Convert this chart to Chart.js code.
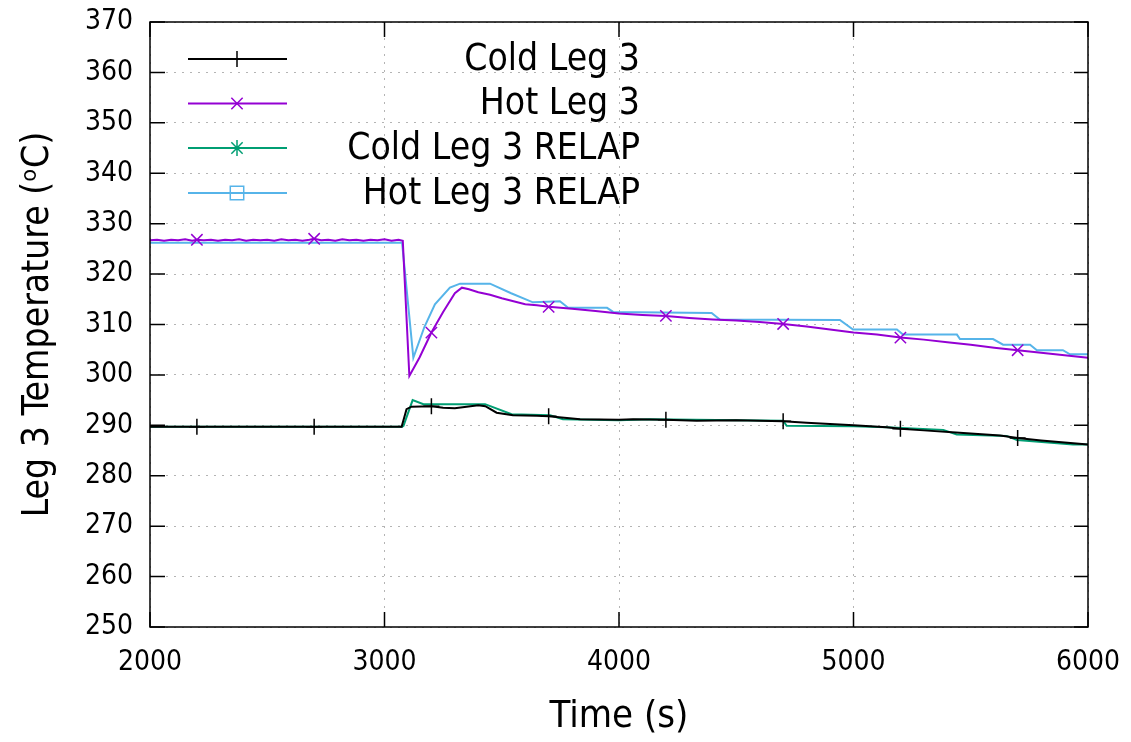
<!DOCTYPE html>
<html>
<head>
<meta charset="utf-8">
<script src="https://cdn.jsdelivr.net/npm/chart.js@4/dist/chart.umd.min.js"></script>
<style>
  body { margin: 0; background: #fff; }
</style>
</head>
<body>
<canvas id="chart" width="1131" height="742"></canvas>
<script>
// Datos
const coldLegTime = [2000, 2200, 2700, 3073, 3094, 3115, 3200, 3250, 3300, 3350, 3400, 3430, 3478, 3548, 3650, 3700, 3834, 4000, 4060, 4200, 4331, 4500, 4700, 4800, 5000, 5141, 5200, 5300, 5437, 5625, 5700, 5800, 5900, 6000];
const coldLegTemp = [289.7, 289.7, 289.7, 289.7, 293.2, 293.7, 293.8, 293.5, 293.4, 293.7, 294.0, 293.8, 292.5, 292.0, 291.9, 291.8, 291.2, 291.1, 291.2, 291.1, 290.9, 291.0, 290.8, 290.5, 290.0, 289.6, 289.3, 289.0, 288.6, 288.0, 287.5, 287.0, 286.6, 286.2];

const hotLegTime = [2000, 2030, 2060, 2090, 2120, 2150, 2180, 2200, 2230, 2260, 2290, 2320, 2350, 2380, 2410, 2440, 2470, 2500, 2530, 2560, 2590, 2620, 2650, 2680, 2700, 2730, 2760, 2790, 2820, 2850, 2880, 2910, 2940, 2970, 3000, 3030, 3060, 3078, 3106, 3150, 3200, 3250, 3300, 3330, 3360, 3400, 3450, 3500, 3550, 3600, 3650, 3700, 3800, 3900, 4000, 4100, 4200, 4300, 4400, 4500, 4600, 4700, 4800, 4900, 5000, 5100, 5200, 5300, 5400, 5500, 5600, 5700, 5800, 5900, 6000];
const hotLegTemp = [326.7, 326.8, 326.6, 326.8, 326.7, 326.9, 326.6, 326.8, 326.7, 326.8, 326.6, 326.8, 326.7, 326.9, 326.6, 326.8, 326.7, 326.8, 326.6, 326.9, 326.7, 326.8, 326.6, 326.8, 327.0, 326.7, 326.8, 326.6, 326.9, 326.7, 326.8, 326.6, 326.8, 326.7, 326.9, 326.6, 326.8, 326.6, 299.8, 303.5, 308.4, 312.5, 316.2, 317.3, 317.0, 316.4, 315.9, 315.2, 314.6, 314.0, 313.8, 313.5, 313.1, 312.7, 312.2, 311.9, 311.7, 311.3, 311.0, 310.8, 310.5, 310.1, 309.6, 309.0, 308.4, 308.0, 307.4, 307.0, 306.5, 306.0, 305.4, 304.9, 304.4, 303.9, 303.4];

const coldRelapTime = [2000, 3075, 3081, 3120, 3166, 3429, 3542, 3706, 3761, 4000, 4130, 4700, 4715, 5000, 5141, 5383, 5440, 5653, 5697, 5936, 6000];
const coldRelapTemp = [289.7, 289.7, 289.9, 295.0, 294.2, 294.2, 292.2, 292.0, 291.2, 291.0, 291.2, 290.9, 289.9, 289.8, 289.6, 289.1, 288.2, 287.9, 287.1, 286.2, 286.2];

const hotRelapTime = [2000, 3075, 3123, 3170, 3215, 3279, 3322, 3450, 3540, 3633, 3748, 3783, 3949, 3975, 4395, 4430, 4942, 4998, 5185, 5211, 5441, 5454, 5595, 5638, 5753, 5782, 5893, 5923, 6000];
const hotRelapTemp = [326.2, 326.2, 303.4, 309.5, 314.0, 317.3, 318.1, 318.1, 316.2, 314.4, 314.6, 313.3, 313.3, 312.5, 312.3, 311.0, 310.9, 309.0, 309.0, 308.0, 308.0, 307.1, 307.1, 306.0, 306.0, 304.9, 304.9, 304.1, 304.1];

const markerTimes = [2200, 2700, 3200, 3700, 4200, 4700, 5200, 5700];
const xTicks = [2000, 3000, 4000, 5000, 6000];
const yTicks = [250, 260, 270, 280, 290, 300, 310, 320, 330, 340, 350, 360, 370];

const pts = (t, v) => t.map((x, i) => ({ x: x, y: v[i] }));
const markerRadius = ctx => (ctx.raw && markerTimes.includes(ctx.raw.x)) ? 8 : 0;

const FONT = "'DejaVu Sans Condensed', 'DejaVu Sans', sans-serif";

// marco con marcas hacia dentro, estilo gnuplot
const framePlugin = {
  id: 'frame',
  afterDatasetsDraw(chart) {
    const { ctx, chartArea: a, scales } = chart;
    ctx.save();
    ctx.strokeStyle = '#000';
    ctx.lineWidth = 1.5;
    ctx.beginPath();
    yTicks.forEach(v => {
      const y = scales.y.getPixelForValue(v);
      ctx.moveTo(a.left, y); ctx.lineTo(a.left + 15, y);
      ctx.moveTo(a.right, y); ctx.lineTo(a.right - 14, y);
    });
    xTicks.forEach(v => {
      const x = scales.x.getPixelForValue(v);
      ctx.moveTo(x, a.bottom); ctx.lineTo(x, a.bottom - 15);
      ctx.moveTo(x, a.top); ctx.lineTo(x, a.top + 15);
    });
    ctx.stroke();
    ctx.strokeRect(a.left, a.top, a.right - a.left, a.bottom - a.top);
    ctx.restore();
  }
};

// leyenda dibujada a mano
const legendPlugin = {
  id: 'gpLegend',
  afterDraw(chart) {
    const { ctx } = chart;
    const rows = [59, 103.5, 148, 193];
    ctx.save();
    ctx.font = '37px ' + FONT;
    ctx.textAlign = 'right';
    ctx.textBaseline = 'middle';
    chart.data.datasets.forEach((ds, i) => {
      const y = rows[i];
      ctx.strokeStyle = ds.borderColor;
      ctx.lineWidth = 2;
      ctx.beginPath();
      ctx.moveTo(188, y); ctx.lineTo(287, y);
      ctx.stroke();
      ctx.fillStyle = 'rgba(0,0,0,0)';
      ctx.lineWidth = 1.5;
      Chart.helpers.drawPoint(ctx, {
        pointStyle: ds.pointStyle,
        radius: ds.pointStyle === 'rect' ? 9.5 : 8,
        borderWidth: 1.5,
        rotation: 0
      }, 237, y);
      ctx.fillStyle = '#000';
      ctx.fillText(ds.label, 640, y + 1);
    });
    ctx.restore();
  }
};

const config = {
  type: 'line',
  data: {
    datasets: [
      {
        label: 'Cold Leg 3',
        data: pts(coldLegTime, coldLegTemp),
        borderColor: '#000000',
        borderWidth: 2,
        pointStyle: 'cross',
        pointRadius: markerRadius,
        pointBorderWidth: 1.5,
        pointBorderColor: '#000000'
      },
      {
        label: 'Hot Leg 3',
        data: pts(hotLegTime, hotLegTemp),
        borderColor: '#9400D3',
        borderWidth: 2,
        pointStyle: 'crossRot',
        pointRadius: markerRadius,
        pointBorderWidth: 1.5,
        pointBorderColor: '#9400D3'
      },
      {
        label: 'Cold Leg 3 RELAP',
        data: pts(coldRelapTime, coldRelapTemp),
        borderColor: '#009E73',
        borderWidth: 2,
        pointStyle: 'star',
        pointRadius: 0
      },
      {
        label: 'Hot Leg 3 RELAP',
        data: pts(hotRelapTime, hotRelapTemp),
        borderColor: '#56B4E9',
        borderWidth: 2,
        pointStyle: 'rect',
        pointRadius: 0
      }
    ]
  },
  options: {
    responsive: false,
    animation: false,
    layout: { padding: { top: 22, right: 43, left: 0, bottom: 0 } },
    elements: { line: { tension: 0 } },
    scales: {
      x: {
        type: 'linear',
        min: 2000,
        max: 6000,
        afterFit: s => { s.height = 115; s.paddingLeft = 0; s.paddingRight = 0; },
        afterBuildTicks: s => { s.ticks = xTicks.map(v => ({ value: v })); },
        grid: { color: '#b4b4b4', lineWidth: 1, drawTicks: false },
        border: { display: false, dash: [2, 6] },
        ticks: { color: '#000', font: { family: FONT, size: 28 }, padding: 19, maxRotation: 0, callback: v => String(v) },
        title: { display: true, text: 'Time (s)', color: '#000', font: { family: FONT, size: 38 }, padding: { top: 0, bottom: 2 } }
      },
      y: {
        min: 250,
        max: 370,
        afterFit: s => { s.width = 150; s.paddingTop = 0; s.paddingBottom = 0; },
        afterBuildTicks: s => { s.ticks = yTicks.map(v => ({ value: v })); },
        grid: { color: '#b4b4b4', lineWidth: 1, drawTicks: false },
        border: { display: false, dash: [2, 6] },
        ticks: { color: '#000', font: { family: FONT, size: 28 }, padding: 17, callback: v => String(v) },
        title: { display: true, text: 'Leg 3 Temperature (ᵒC)', color: '#000', font: { family: FONT, size: 37 }, padding: { top: 16, bottom: 0 } }
      }
    },
    plugins: {
      legend: { display: false },
      tooltip: { enabled: false }
    }
  },
  plugins: [framePlugin, legendPlugin]
};

new Chart(document.getElementById('chart').getContext('2d'), config);
</script>
</body>
</html>
